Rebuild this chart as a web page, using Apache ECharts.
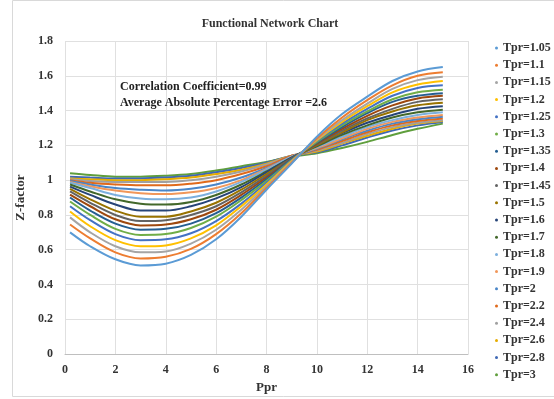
<!DOCTYPE html>
<html>
<head>
<meta charset="utf-8">
<script src="https://cdn.jsdelivr.net/npm/echarts@6/dist/echarts.min.js"></script>
<style>
  html, body { margin: 0; padding: 0; background: #fff; }
  #main { width: 554px; height: 399px; }
</style>
</head>
<body>
<div id="main"></div>
<script>
// Ppr sample points along every curve
let ppr = [0.2, 1, 2, 3, 4, 5, 6, 7, 8, 9, 10, 11, 12, 13, 14, 15];

let tprNames = ['Tpr=1.05', 'Tpr=1.1', 'Tpr=1.15', 'Tpr=1.2', 'Tpr=1.25', 'Tpr=1.3', 'Tpr=1.35', 'Tpr=1.4', 'Tpr=1.45', 'Tpr=1.5',
  'Tpr=1.6', 'Tpr=1.7', 'Tpr=1.8', 'Tpr=1.9', 'Tpr=2', 'Tpr=2.2', 'Tpr=2.4', 'Tpr=2.6', 'Tpr=2.8', 'Tpr=3'];

// Z-factor, one row per Tpr
let z105 = [0.70, 0.62, 0.545, 0.51, 0.52, 0.57, 0.66, 0.79, 0.945, 1.095, 1.25, 1.38, 1.48, 1.57, 1.625, 1.65];
let z110 = [0.745, 0.665, 0.585, 0.55, 0.56, 0.605, 0.69, 0.81, 0.955, 1.10, 1.24, 1.36, 1.46, 1.545, 1.60, 1.62];
let z115 = [0.786, 0.70, 0.62, 0.585, 0.59, 0.635, 0.715, 0.83, 0.965, 1.105, 1.235, 1.345, 1.44, 1.525, 1.575, 1.595];
let z120 = [0.82, 0.735, 0.655, 0.62, 0.625, 0.665, 0.74, 0.85, 0.975, 1.11, 1.23, 1.335, 1.425, 1.505, 1.55, 1.57];
let z125 = [0.85, 0.77, 0.69, 0.655, 0.66, 0.695, 0.765, 0.865, 0.985, 1.115, 1.225, 1.325, 1.41, 1.485, 1.53, 1.545];
let z130 = [0.877, 0.80, 0.72, 0.685, 0.69, 0.725, 0.79, 0.885, 0.995, 1.115, 1.22, 1.315, 1.395, 1.465, 1.505, 1.52];
let z135 = [0.90, 0.825, 0.75, 0.715, 0.72, 0.75, 0.81, 0.90, 1.005, 1.12, 1.215, 1.305, 1.385, 1.45, 1.485, 1.50];
let z140 = [0.917, 0.85, 0.775, 0.74, 0.745, 0.775, 0.83, 0.915, 1.015, 1.12, 1.21, 1.295, 1.37, 1.43, 1.47, 1.485];
let z145 = [0.935, 0.87, 0.80, 0.765, 0.77, 0.80, 0.85, 0.93, 1.025, 1.125, 1.205, 1.285, 1.355, 1.41, 1.45, 1.465];
let z150 = [0.95, 0.89, 0.825, 0.79, 0.79, 0.82, 0.87, 0.945, 1.035, 1.125, 1.20, 1.275, 1.345, 1.395, 1.43, 1.445];
let z160 = [0.963, 0.915, 0.86, 0.825, 0.825, 0.85, 0.895, 0.96, 1.045, 1.13, 1.20, 1.27, 1.33, 1.375, 1.41, 1.425];
let z170 = [0.975, 0.935, 0.89, 0.865, 0.86, 0.875, 0.915, 0.975, 1.05, 1.13, 1.195, 1.26, 1.315, 1.36, 1.39, 1.405];
let z180 = [0.985, 0.955, 0.915, 0.895, 0.89, 0.90, 0.935, 0.99, 1.06, 1.135, 1.19, 1.25, 1.305, 1.345, 1.375, 1.39];
let z190 = [0.99, 0.965, 0.94, 0.925, 0.92, 0.93, 0.955, 1.0, 1.065, 1.135, 1.185, 1.24, 1.295, 1.335, 1.36, 1.375];
let z200 = [0.995, 0.975, 0.955, 0.945, 0.94, 0.95, 0.975, 1.015, 1.07, 1.135, 1.18, 1.235, 1.285, 1.325, 1.35, 1.365];
let z220 = [1.0, 0.985, 0.975, 0.97, 0.97, 0.98, 1.0, 1.035, 1.08, 1.14, 1.175, 1.225, 1.275, 1.315, 1.34, 1.355];
let z240 = [1.005, 0.995, 0.99, 0.99, 0.99, 1.0, 1.02, 1.05, 1.09, 1.14, 1.17, 1.215, 1.265, 1.305, 1.33, 1.345];
let z260 = [1.01, 1.005, 1.0, 1.0, 1.005, 1.015, 1.035, 1.06, 1.095, 1.14, 1.165, 1.21, 1.255, 1.295, 1.325, 1.34];
let z280 = [1.02, 1.015, 1.01, 1.01, 1.015, 1.025, 1.045, 1.07, 1.10, 1.14, 1.16, 1.20, 1.245, 1.285, 1.315, 1.335];
let z300 = [1.04, 1.03, 1.02, 1.02, 1.025, 1.035, 1.055, 1.08, 1.105, 1.135, 1.155, 1.185, 1.22, 1.26, 1.295, 1.325];

let zRows = [z105, z110, z115, z120, z125, z130, z135, z140, z145, z150,
  z160, z170, z180, z190, z200, z220, z240, z260, z280, z300];

let xTicks = [0, 16, 2];     // min, max, interval
let yTicks = [0, 1.8, 0.2];

let colors = ['#5B9BD5', '#ED7D31', '#A5A5A5', '#FFC000', '#4472C4', '#70AD47',
  '#255E91', '#9E480E', '#636363', '#997300', '#264478', '#43682B',
  '#7CAFDD', '#F1975A', '#4A86C8', '#E06A1B', '#A0A0A0', '#E6AC00', '#3E68B5', '#5F9E3C'];

let serif = '"Liberation Serif", "Times New Roman", serif';

let series = zRows.map(function (row, i) {
  return {
    name: tprNames[i],
    type: 'line',
    smooth: 0.35,
    showSymbol: false,
    symbol: 'none',
    lineStyle: { width: 2, color: colors[i] },
    itemStyle: { color: colors[i] },
    data: row.map(function (v, j) { return [ppr[j], v]; }),
    z: 20 - i
  };
});

let option = {
  color: colors,
  animation: false,
  title: {
    text: 'Functional Network Chart',
    left: 265,
    top: 13,
    textAlign: 'center',
    textStyle: { fontFamily: serif, fontWeight: 'bold', fontSize: 12, color: '#333' }
  },
  grid: {
    left: 65,
    right: 86,
    top: 41,
    bottom: 44
  },
  legend: {
    orient: 'vertical',
    left: 490,
    top: 36,
    icon: 'circle',
    itemWidth: 3,
    itemHeight: 3,
    itemGap: 3.2,
    textStyle: { fontFamily: serif, fontWeight: 'bold', fontSize: 12, color: '#333', lineHeight: 14 },
    data: tprNames
  },
  xAxis: {
    type: 'value',
    min: xTicks[0],
    max: xTicks[1],
    interval: xTicks[2],
    name: 'Ppr',
    nameLocation: 'middle',
    nameGap: 25,
    nameTextStyle: { fontFamily: serif, fontWeight: 'bold', fontSize: 13, color: '#333' },
    axisLine: { show: true, lineStyle: { color: '#bfbfbf' } },
    axisTick: { show: false },
    axisLabel: { fontFamily: serif, fontWeight: 'bold', fontSize: 12, color: '#333', margin: 10 },
    splitLine: { show: true, lineStyle: { color: '#e0e0e0' } }
  },
  yAxis: {
    type: 'value',
    min: yTicks[0],
    max: yTicks[1],
    interval: yTicks[2],
    name: 'Z-factor',
    nameLocation: 'middle',
    nameGap: 34,
    nameRotate: 90,
    nameTextStyle: { fontFamily: serif, fontWeight: 'bold', fontSize: 13, color: '#333' },
    axisLine: { show: false },
    axisTick: { show: false },
    axisLabel: {
      fontFamily: serif, fontWeight: 'bold', fontSize: 12, color: '#333', margin: 12,
      formatter: function (v) { return String(+v.toFixed(1)); }
    },
    splitLine: { show: true, lineStyle: { color: '#e0e0e0' } }
  },
  graphic: [
    {
      type: 'rect',
      shape: { x: 12.5, y: 0.5, width: 600, height: 396 },
      style: { fill: 'none', stroke: '#d9d9d9', lineWidth: 1 },
      silent: true
    },
    {
      type: 'text',
      left: 120,
      top: 79,
      z: 100,
      style: {
        text: 'Correlation Coefficient=0.99\nAverage Absolute Percentage Error =2.6',
        font: 'bold 12px ' + serif,
        fill: '#222',
        lineHeight: 16
      }
    }
  ],
  series: series
};

let chart = echarts.init(document.getElementById('main'), null, { renderer: 'canvas' });
chart.setOption(option);
</script>
</body>
</html>
